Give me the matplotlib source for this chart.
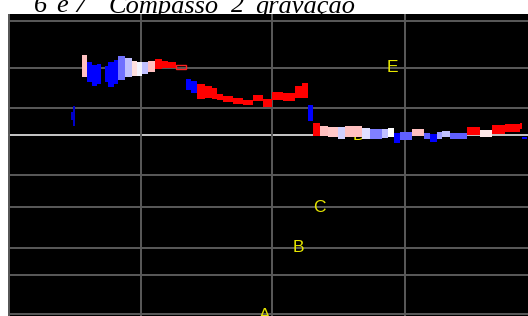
import matplotlib
matplotlib.use("Agg")
import matplotlib.pyplot as plt

# ---- data (x position, vertical pitch position; y axis inverted like the source) ----
seg_x0 = [82, 87, 92, 97, 105, 108, 114, 118, 125, 132, 137, 142, 148, 155, 162, 168,
          71, 73,
          186, 191, 197, 205, 212, 217, 223, 233, 243, 253, 263, 272, 283, 295, 302, 308,
          313, 320, 328, 338, 345, 362, 370, 382, 388, 394, 400, 412, 424, 430, 437, 442,
          450, 467, 480, 492, 505, 520, 522]
seg_x1 = [87, 92, 97, 101, 108, 114, 118, 125, 132, 137, 142, 148, 155, 162, 168, 176,
          73, 75,
          191, 197, 205, 212, 217, 223, 233, 243, 253, 263, 272, 283, 295, 302, 308, 313,
          320, 328, 338, 345, 362, 370, 382, 388, 394, 400, 412, 424, 430, 437, 442, 450,
          467, 480, 492, 505, 520, 522, 527]
seg_top = [55, 62, 65, 64, 66, 62, 60, 56, 58, 61, 62, 62, 61, 59, 61, 62,
           112, 106,
           79, 81, 84, 86, 88, 94, 96, 98, 100, 95, 99, 92, 93, 86, 83, 105,
           123, 126, 127, 127, 126, 128, 129, 129, 128, 133, 132, 129, 133, 134, 132, 131,
           133, 127, 130, 125, 124, 123, 137]
seg_bot = [77, 82, 86, 84, 82, 87, 84, 80, 77, 76, 76, 74, 72, 69, 68, 68,
           120, 126,
           90, 93, 99, 98, 99, 100, 102, 104, 105, 101, 107, 100, 101, 98, 98, 121,
           136, 136, 137, 139, 137, 139, 139, 138, 137, 143, 140, 136, 139, 142, 139, 137,
           139, 135, 137, 134, 132, 129, 139]
seg_col = ['#ffc0c0', '#0000ff', '#0000ff', '#0000ff', '#0000ff', '#0000ff', '#0000ff',
           '#7070ff', '#c0c0ff', '#ffe0e0', '#f4f4ff', '#c0c0ff', '#ffc0c0', '#ff0000',
           '#ff0000', '#ff0000',
           '#0000c8', '#0000c8',
           '#0000ff', '#0000ff', '#ff0000', '#ff0000', '#ff0000', '#ff0000', '#ff0000',
           '#ff0000', '#ff0000', '#ff0000', '#ff0000', '#ff0000', '#ff0000', '#ff0000',
           '#ff0000', '#0000ff',
           '#ff0000', '#ffc0c0', '#ffc8c8', '#d0d0ff', '#ffc0c0', '#e0e0ff', '#8080ff',
           '#c0c0ff', '#ffffff', '#0000ff', '#6060ff', '#ffc0c0', '#6060ff', '#0000ff',
           '#a0a0ff', '#c0c0ff', '#6060ff', '#ff0000', '#ffe8e8', '#ff0000', '#ff0000',
           '#ff0000', '#0000ff']

# thin red outline tail of the first phrase
tail_x = [176, 186]
tail_y = [65, 69]

note_names = ['E', 'D', 'C', 'B', 'A']
note_x = [392, 359, 319, 298, 265]
note_y = [67, 135, 208, 248, 315]

hgrid = [21, 68, 108, 175, 207, 248, 275, 314]
hgrid_main = [135]
vgrid = [9, 141, 272, 405]

title_parts = ['6', 'e', '7', 'Compasso', '2', 'gravação']
title_x = [34, 56, 73, 109, 231, 256]

# ---- figure ----
W, H = 528, 316
fig = plt.figure(figsize=(W / 100, H / 100), dpi=100)
fig.patch.set_facecolor('white')
ax = fig.add_axes([8 / W, 0, (W - 8) / W, (H - 14) / H])
ax.set_facecolor('black')
ax.set_xlim(8, 528)
ax.set_ylim(316, 14)
for s in ax.spines.values():
    s.set_visible(False)
ax.set_xticks([])
ax.set_yticks([])

for y in hgrid:
    ax.axhline(y, color='#5a5a5a', lw=1.4, zorder=1)
for y in hgrid_main:
    ax.axhline(y, color='#c8c8c8', lw=1.4, zorder=1)
for x in vgrid:
    ax.axvline(x, color='#5a5a5a', lw=1.4, zorder=1)

for name, x, y in zip(note_names, note_x, note_y):
    ax.text(x, y, name, color='#e6e600', fontsize=12.5, ha='center', va='center',
            family='Liberation Sans', zorder=2)

widths = [b - a for a, b in zip(seg_x0, seg_x1)]
heights = [b - a for a, b in zip(seg_top, seg_bot)]
ax.bar(seg_x0, heights, width=widths, bottom=seg_top, align='edge',
       color=seg_col, linewidth=0, zorder=3)
ax.bar([tail_x[0]], [tail_y[1] - tail_y[0]], width=[tail_x[1] - tail_x[0]],
       bottom=[tail_y[0]], align='edge', facecolor='none', edgecolor='#ff2020',
       linewidth=1.0, zorder=3)

for t, x in zip(title_parts, title_x):
    fig.text(x / W, 1 - 12.5 / H, t, fontsize=19, family='Liberation Serif',
             style='italic', ha='left', va='baseline', color='black', zorder=-1)

fig.savefig('out.png', dpi=100, facecolor='white')
